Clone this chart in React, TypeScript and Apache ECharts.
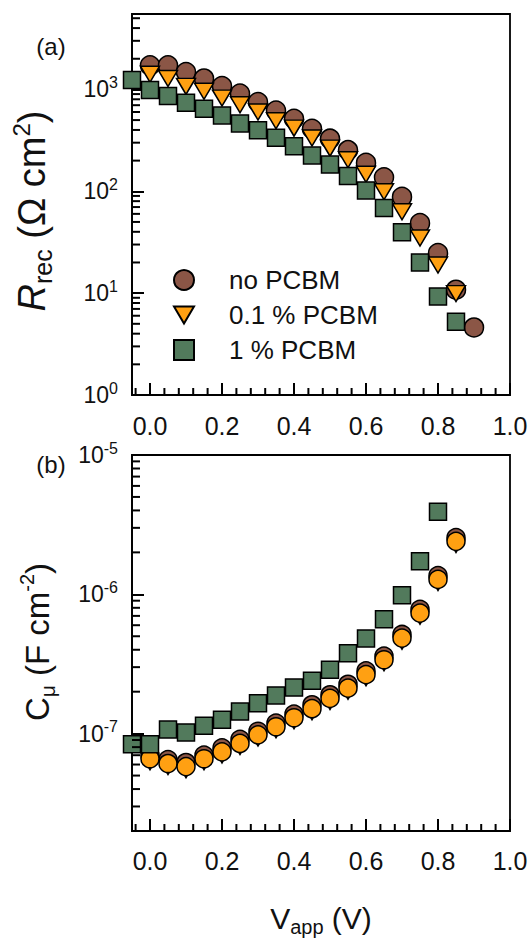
import React, { useEffect, useRef } from 'react';
import * as echarts from 'echarts';

// ---------- data ----------
// panel (a): recombination resistance R_rec (Ohm cm^2)
const vNoPcbmA = [0.0, 0.05, 0.1, 0.15, 0.2, 0.25, 0.3, 0.35, 0.4, 0.45, 0.5, 0.55, 0.6, 0.65, 0.7, 0.75, 0.8, 0.85, 0.9];
const rNoPcbm = [1720, 1720, 1480, 1280, 1080, 910, 750, 620, 515, 410, 328, 253, 190, 137, 88, 48.6, 24.7, 10.8, 4.6];
const vPcbm01A = [0.0, 0.05, 0.1, 0.15, 0.2, 0.25, 0.3, 0.35, 0.4, 0.45, 0.5, 0.55, 0.6, 0.65, 0.7, 0.75, 0.8, 0.85];
const rPcbm01 = [1410, 1280, 1070, 958, 822, 708, 600, 493, 417, 333, 265, 204, 147, 99, 63, 34.8, 18.9, 9.9];
const vPcbm1A = [-0.05, 0.0, 0.05, 0.1, 0.15, 0.2, 0.25, 0.3, 0.35, 0.4, 0.45, 0.5, 0.55, 0.6, 0.65, 0.7, 0.75, 0.8, 0.85];
const rPcbm1 = [1240, 986, 861, 741, 647, 556, 464, 398, 335, 277, 225, 183, 141, 102, 68.7, 39.6, 20.0, 9.27, 5.25];

// panel (b): chemical capacitance C_mu (F cm^-2)
const vNoPcbmB = [0.0, 0.05, 0.1, 0.15, 0.2, 0.25, 0.3, 0.35, 0.4, 0.45, 0.5, 0.55, 0.6, 0.65, 0.7, 0.75, 0.8, 0.85];
const cNoPcbm = [7.0e-8, 6.5e-8, 6.2e-8, 7.0e-8, 7.9e-8, 9.1e-8, 1.04e-7, 1.19e-7, 1.38e-7, 1.61e-7, 1.9e-7, 2.26e-7, 2.82e-7, 3.6e-7, 5.15e-7, 7.8e-7, 1.36e-6, 2.55e-6];
const vPcbm01B = [0.0, 0.05, 0.1, 0.15, 0.2, 0.25, 0.3, 0.35, 0.4, 0.45, 0.5, 0.55, 0.6, 0.65, 0.7, 0.75, 0.8, 0.85];
const cPcbm01 = [6.6e-8, 6.1e-8, 5.8e-8, 6.6e-8, 7.4e-8, 8.5e-8, 9.8e-8, 1.12e-7, 1.3e-7, 1.51e-7, 1.79e-7, 2.12e-7, 2.65e-7, 3.39e-7, 4.85e-7, 7.33e-7, 1.28e-6, 2.4e-6];
const vPcbm1B = [-0.05, 0.0, 0.05, 0.1, 0.15, 0.2, 0.25, 0.3, 0.35, 0.4, 0.45, 0.5, 0.55, 0.6, 0.65, 0.7, 0.75, 0.8];
const cPcbm1 = [8.4e-8, 8.4e-8, 1.07e-7, 1.02e-7, 1.14e-7, 1.26e-7, 1.44e-7, 1.65e-7, 1.88e-7, 2.14e-7, 2.4e-7, 2.88e-7, 3.77e-7, 4.82e-7, 6.61e-7, 9.84e-7, 1.73e-6, 3.91e-6];

const legendNames = ['no PCBM', '0.1 % PCBM', '1 % PCBM'];

// axis ranges
const xMin = -0.05;
const xMax = 1.0;
const rMin = 1;
const rMax = 5500;
const cMin = 2e-8;
const cMax = 1e-5;

// ---------- style ----------
const FONT = '"Liberation Sans", Arial, Helvetica, sans-serif';
const INK = '#111';
const TICK = '#000';
const BROWN = '#8b5646';
const ORANGE = '#ffa012';
const GREEN = '#527a5c';
const TRI_DOWN = 'path://M0,0L20,0L10,17Z';

const pairs = (xs: number[], ys: number[]) => xs.map((x, i) => [x, ys[i]]);

function logMinorTicks(lo: number, hi: number): number[] {
  const out: number[] = [];
  for (let e = Math.floor(Math.log10(lo)); e <= Math.ceil(Math.log10(hi)); e++) {
    for (let k = 2; k <= 9; k++) {
      const v = k * Math.pow(10, e);
      if (v > lo * 1.0001 && v < hi * 0.9999) out.push(v);
    }
  }
  return out;
}

function linMinorTicks(): number[] {
  const out: number[] = [];
  for (let i = -1; i <= 24; i++) {
    const v = Math.round(i * 0.04 * 1000) / 1000;
    if (v <= xMin || v >= xMax) continue;
    if (i % 5 === 0) continue;
    out.push(v);
  }
  return out;
}

// short minor tick marks drawn as thin rect symbols placed through the axes
function tickSeries(name: string, idx: number, data: number[][], dir: 'x' | 'y', len: number) {
  return {
    type: 'scatter',
    name,
    xAxisIndex: idx,
    yAxisIndex: idx,
    silent: true,
    z: 6,
    symbol: 'rect',
    symbolSize: dir === 'y' ? [len, 2] : [2, len],
    symbolOffset: dir === 'y' ? [len / 2, 0] : [0, -len / 2],
    itemStyle: { color: TICK, opacity: 1 },
    emphasis: { disabled: true },
    data,
  };
}

const fmtPow = (v: number) => {
  const e = Math.log10(v);
  const r = Math.round(e);
  if (Math.abs(e - r) > 1e-6) return '';
  return `{b|10}{s|${r}}`;
};
const fmtX = (v: number) => {
  const k = v / 0.2;
  return Math.abs(k - Math.round(k)) < 1e-6 ? v.toFixed(1) : '';
};

const powRich = {
  b: { fontSize: 23, fontFamily: FONT, color: INK, lineHeight: 30 },
  s: { fontSize: 16, fontFamily: FONT, color: INK, lineHeight: 16, verticalAlign: 'top' },
};

function xAxisDef(idx: number, margin: number) {
  return {
    type: 'value',
    gridIndex: idx,
    min: xMin,
    max: xMax,
    axisLine: { show: true, onZero: false, lineStyle: { color: '#000', width: 1.8 } },
    axisTick: { show: true, inside: true, length: 12, lineStyle: { color: TICK, width: 2 } },
    splitLine: { show: false },
    axisLabel: { margin, fontSize: 25, fontFamily: FONT, color: INK, formatter: fmtX },
  };
}

function yAxisDef(idx: number, min: number, max: number) {
  return {
    type: 'log',
    logBase: 10,
    gridIndex: idx,
    min,
    max,
    axisLine: { show: true, onZero: false, lineStyle: { color: '#000', width: 1.8 } },
    axisTick: { show: true, inside: true, length: 12, lineStyle: { color: TICK, width: 2 } },
    splitLine: { show: false },
    axisLabel: { margin: 14, formatter: fmtPow, rich: powRich },
  };
}

const mk = (color: string) => ({ color, borderColor: '#000', borderWidth: 1.5, opacity: 1 });

function buildOption() {
  const yMinorA = logMinorTicks(rMin, rMax).map((v) => [xMin, v]);
  const yMinorB = logMinorTicks(cMin, cMax).map((v) => [xMin, v]);
  const xMinorA = linMinorTicks().map((v) => [v, rMin]);
  const xMinorB = linMinorTicks().map((v) => [v, cMin]);

  const titleRich = (size: number) => ({
    n: { fontSize: size, fontFamily: FONT, color: INK, lineHeight: size + 8 },
    i: { fontSize: size, fontFamily: FONT, color: INK, fontStyle: 'italic', lineHeight: size + 8 },
    s: { fontSize: Math.round(size * 0.65), fontFamily: FONT, color: INK, lineHeight: Math.round(size * 0.65), verticalAlign: 'bottom' },
    p: { fontSize: Math.round(size * 0.62), fontFamily: FONT, color: INK, lineHeight: Math.round(size * 0.62), verticalAlign: 'top' },
  });

  return {
    animation: false,
    backgroundColor: '#fff',
    grid: [
      { left: 132, top: 14, width: 378, height: 381, show: true, borderColor: '#000', borderWidth: 1.8 },
      { left: 132, top: 455, width: 378, height: 376, show: true, borderColor: '#000', borderWidth: 1.8 },
    ],
    xAxis: [xAxisDef(0, 18), xAxisDef(1, 17)],
    yAxis: [yAxisDef(0, rMin, rMax), yAxisDef(1, cMin, cMax)],
    legend: {
      show: true,
      orient: 'vertical',
      left: 173,
      top: 267,
      itemWidth: 20,
      itemHeight: 20,
      itemGap: 9,
      padding: 0,
      selectedMode: false,
      data: legendNames,
      formatter: (n: string) => `{t|${n}}`,
      textStyle: {
        fontSize: 26,
        fontFamily: FONT,
        color: INK,
        rich: { t: { fontSize: 26, fontFamily: FONT, color: INK, lineHeight: 22, padding: [0, 0, 0, 30] } },
      },
    },
    graphic: [
      { type: 'text', x: 51, y: 46, style: { text: '(a)', fontSize: 24, fontFamily: FONT, fill: INK, align: 'center', verticalAlign: 'middle' } },
      { type: 'text', x: 51, y: 464, style: { text: '(b)', fontSize: 24, fontFamily: FONT, fill: INK, align: 'center', verticalAlign: 'middle' } },
      {
        type: 'text', x: 32, y: 211, rotation: Math.PI / 2,
        style: { text: '{i|R}{s|rec}{n| (Ω cm}{p|2}{n|)}', rich: titleRich(38), align: 'center', verticalAlign: 'middle', fill: INK },
      },
      {
        type: 'text', x: 37, y: 642, rotation: Math.PI / 2,
        style: { text: '{n|C}{s|μ}{n| (F cm}{p|-2}{n|)}', rich: titleRich(33), align: 'center', verticalAlign: 'middle', fill: INK },
      },
      {
        type: 'text', x: 321, y: 918,
        style: { text: '{n|V}{s|app}{n| (V)}', rich: titleRich(30), align: 'center', verticalAlign: 'middle', fill: INK },
      },
    ],
    series: [
      // panel (a)
      { type: 'scatter', name: 'no PCBM', xAxisIndex: 0, yAxisIndex: 0, symbol: 'circle', symbolSize: 19, itemStyle: mk(BROWN), data: pairs(vNoPcbmA, rNoPcbm), z: 2, emphasis: { disabled: true } },
      { type: 'scatter', name: '0.1 % PCBM', xAxisIndex: 0, yAxisIndex: 0, symbol: TRI_DOWN, symbolSize: [19, 16], itemStyle: mk(ORANGE), data: pairs(vPcbm01A, rPcbm01), z: 3, emphasis: { disabled: true } },
      { type: 'scatter', name: '1 % PCBM', xAxisIndex: 0, yAxisIndex: 0, symbol: 'rect', symbolSize: 17, itemStyle: mk(GREEN), data: pairs(vPcbm1A, rPcbm1), z: 4, emphasis: { disabled: true } },
      // panel (b)
      { type: 'scatter', name: 'no PCBM b', xAxisIndex: 1, yAxisIndex: 1, symbol: 'circle', symbolSize: 18, itemStyle: mk(BROWN), data: pairs(vNoPcbmB, cNoPcbm), z: 2, emphasis: { disabled: true } },
      { type: 'scatter', name: '0.1 % PCBM b', xAxisIndex: 1, yAxisIndex: 1, symbol: TRI_DOWN, symbolSize: [16, 14], symbolOffset: [0, 4], itemStyle: mk(ORANGE), data: pairs(vPcbm01B, cPcbm01), z: 3, emphasis: { disabled: true } },
      { type: 'scatter', name: '0.1 % PCBM b2', xAxisIndex: 1, yAxisIndex: 1, symbol: 'circle', symbolSize: 18, itemStyle: mk(ORANGE), data: pairs(vPcbm01B, cPcbm01), z: 3, emphasis: { disabled: true } },
      { type: 'scatter', name: '1 % PCBM b', xAxisIndex: 1, yAxisIndex: 1, symbol: 'rect', symbolSize: 17, itemStyle: mk(GREEN), data: pairs(vPcbm1B, cPcbm1), z: 4, emphasis: { disabled: true } },
      // minor ticks
      tickSeries('ticks-ya', 0, yMinorA, 'y', 8),
      tickSeries('ticks-yb', 1, yMinorB, 'y', 8),
      tickSeries('ticks-xa', 0, xMinorA, 'x', 7),
      tickSeries('ticks-xb', 1, xMinorB, 'x', 7),
    ],
  };
}

export default function App() {
  const ref = useRef<HTMLDivElement>(null);
  useEffect(() => {
    if (!ref.current) return;
    const chart = echarts.init(ref.current, undefined, { renderer: 'svg' });
    chart.setOption(buildOption() as any);
    return () => chart.dispose();
  }, []);
  return (
    <div
      ref={ref}
      style={{ position: 'absolute', left: 0, top: 0, width: 532, height: 940, background: '#fff' }}
    />
  );
}
